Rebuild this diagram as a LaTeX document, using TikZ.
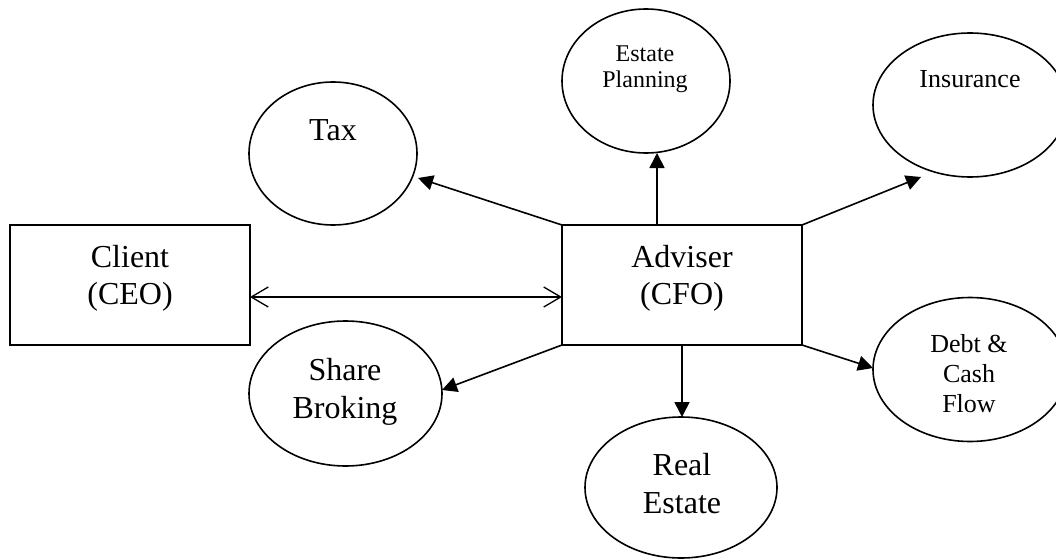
\documentclass[tikz,border=0pt]{standalone}
\usepackage{fontspec}
\setmainfont{Liberation Serif}
\usetikzlibrary{shapes.geometric,arrows.meta}
\begin{document}
\begin{tikzpicture}[x=1pt,y=1pt,
  every node/.style={inner sep=0pt,outer sep=0pt},
  ell/.style={draw,ellipse,line width=1.6pt},
  boxnode/.style={draw,rectangle,line width=1.6pt,minimum width=240pt,minimum height=120pt},
  bigtxt/.style={anchor=base,font=\fontsize{32}{37}\selectfont},
  smalltxt/.style={anchor=base,font=\fontsize{26}{30}\selectfont},
  smallertxt/.style={anchor=base,font=\fontsize{24}{27}\selectfont},
  conn/.style={line width=1.6pt,-{Triangle[length=15pt,width=15pt]}},
  dconn/.style={line width=1.3pt,{Straight Barb[length=17pt,width=20pt]}-{Straight Barb[length=17pt,width=20pt]}}
]
\useasboundingbox (0,0) rectangle (1056,-559);

% boxes
\node[boxnode] (client) at (130,-285) {};
\node[boxnode] (adv) at (682,-285) {};
\node[bigtxt] (clientA) at (130,-267) {Client};
\node[bigtxt] (clientB) at (130,-304) {(CEO)};
\node[bigtxt] (advA) at (682,-267) {Adviser};
\node[bigtxt] (advB) at (682,-304) {(CFO)};

% ellipses
\node[ell,minimum width=168pt,minimum height=143pt] (tax) at (333,-153.5) {};
\node[bigtxt] (taxT) at (333,-140) {Tax};

\node[ell,minimum width=168pt,minimum height=144pt] (est) at (646,-81) {};
\node[smallertxt] (estA) at (645,-62) {Estate};
\node[smallertxt] (estB) at (645,-88) {Planning};

\node[ell,minimum width=194pt,minimum height=144pt] (ins) at (970,-105) {};
\node[smalltxt] (insT) at (970,-88) {Insurance};

\node[ell,minimum width=193pt,minimum height=145pt] (share) at (345.5,-393.5) {};
\node[bigtxt] (shareA) at (345,-380) {Share};
\node[bigtxt] (shareB) at (345,-418) {Broking};

\node[ell,minimum width=192pt,minimum height=141pt] (real) at (681,-487.5) {};
\node[bigtxt] (realA) at (682,-475) {Real};
\node[bigtxt] (realB) at (682,-513) {Estate};

\node[ell,minimum width=194pt,minimum height=144pt] (debt) at (970,-369.5) {};
\node[smalltxt] (debtA) at (969,-352) {Debt \&};
\node[smalltxt] (debtB) at (969,-382) {Cash};
\node[smalltxt] (debtC) at (969,-412) {Flow};

% arrow end points
\coordinate (taxend) at (418,-178);
\coordinate (insend) at (921,-177);
\coordinate (shareend) at (442,-390);
\coordinate (debtend) at (873,-368);
\coordinate (estfoot) at (657,-225);
\coordinate (realfoot) at (682,-345);

% connectors
\draw[dconn] (client.east |- 0,-297) -- (adv.west |- 0,-297);
\draw[conn] (adv.north west) -- (taxend);
\draw[conn] (estfoot) -- (estfoot |- est.south);
\draw[conn] (adv.north east) -- (insend);
\draw[conn] (adv.south west) -- (shareend);
\draw[conn] (realfoot) -- (realfoot |- real.north);
\draw[conn] (adv.south east) -- (debtend);
\end{tikzpicture}
\end{document}
